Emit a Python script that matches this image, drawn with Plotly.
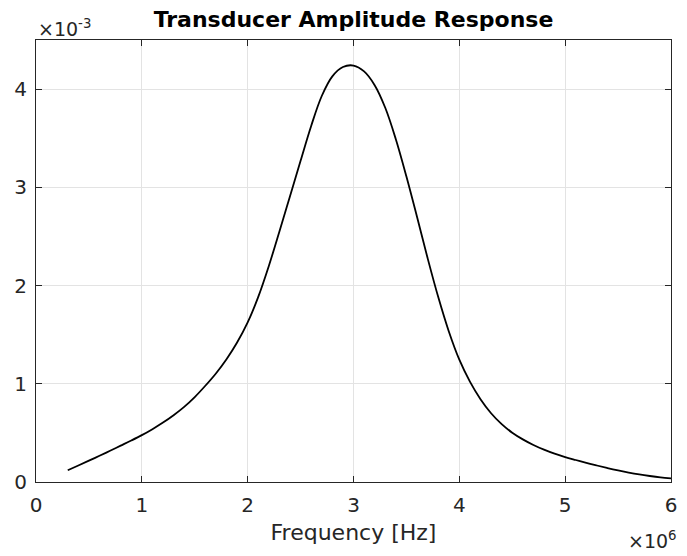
import plotly.graph_objects as go

# Data (frequency in MHz, amplitude in 1e-3 units)
freq_mhz = [0.3, 0.4, 0.5, 0.6, 0.7, 0.8, 0.9, 1.0, 1.1, 1.2,
            1.3, 1.4, 1.5, 1.6, 1.7, 1.8, 1.9, 2.0, 2.1, 2.2,
            2.3, 2.4, 2.5, 2.6, 2.7, 2.8, 2.9, 3.0, 3.1, 3.2,
            3.3, 3.4, 3.5, 3.6, 3.7, 3.8, 3.9, 4.0, 4.1, 4.2,
            4.3, 4.4, 4.5, 4.6, 4.7, 4.8, 4.9, 5.0, 5.1, 5.2,
            5.3, 5.4, 5.5, 5.6, 5.7, 5.8, 5.9, 6.0]
amplitude_e3 = [0.12, 0.168, 0.217, 0.267, 0.318, 0.37, 0.422, 0.477, 0.538, 0.605,
                0.68, 0.765, 0.865, 0.98, 1.105, 1.25, 1.42, 1.625, 1.885, 2.2,
                2.55, 2.91, 3.27, 3.625, 3.93, 4.13, 4.225, 4.24, 4.18, 4.04,
                3.81, 3.49, 3.11, 2.70, 2.28, 1.885, 1.535, 1.245, 1.022, 0.843,
                0.70, 0.589, 0.502, 0.434, 0.377, 0.329, 0.288, 0.254, 0.224, 0.195,
                0.168, 0.142, 0.118, 0.096, 0.077, 0.061, 0.047, 0.036]

freq_hz = [f * 1e6 for f in freq_mhz]
amplitude = [a * 1e-3 for a in amplitude_e3]

x_tickvals = [0, 1e6, 2e6, 3e6, 4e6, 5e6, 6e6]
x_ticktext = ["0", "1", "2", "3", "4", "5", "6"]
y_tickvals = [0, 1e-3, 2e-3, 3e-3, 4e-3]
y_ticktext = ["0", "1", "2", "3", "4"]

title_text = "Transducer Amplitude Response"
xlabel_text = "Frequency [Hz]"
x_exp_text = "×10<sup>6</sup>"
y_exp_text = "×10<sup>-3</sup>"

FONT = "DejaVu Sans, Liberation Sans, Arial, sans-serif"
AX = "#262626"

fig = go.Figure()
fig.add_trace(go.Scatter(x=freq_hz, y=amplitude, mode="lines",
                         line=dict(color="#000000", width=1.8, shape="spline", smoothing=1.0),
                         showlegend=False))

fig.update_layout(
    width=687, height=556,
    margin=dict(l=36, r=10, t=40, b=74),
    paper_bgcolor="white", plot_bgcolor="white",
    font=dict(family=FONT, color=AX, size=20),
    title=dict(text="<b>" + title_text + "</b>", x=0.5, xref="paper",
               y=1 - 19 / 556, yref="container", yanchor="middle",
               font=dict(size=22, color="#000000", family=FONT)),
)

fig.update_xaxes(range=[0, 6e6], tickvals=x_tickvals, ticktext=x_ticktext,
                 showline=True, linecolor=AX, linewidth=1, mirror="ticks",
                 ticks="inside", ticklen=6, tickcolor=AX, tickwidth=1,
                 ticklabelstandoff=5,
                 showgrid=True, gridcolor="#e3e3e3", gridwidth=1, zeroline=False,
                 tickfont=dict(size=20, color=AX),
                 title=dict(text=xlabel_text, font=dict(size=22, color=AX), standoff=8))
fig.update_yaxes(range=[0, 4.5e-3], tickvals=y_tickvals, ticktext=y_ticktext,
                 showline=True, linecolor=AX, linewidth=1, mirror="ticks",
                 ticks="inside", ticklen=6, tickcolor=AX, tickwidth=1,
                 ticklabelstandoff=4,
                 showgrid=True, gridcolor="#e3e3e3", gridwidth=1, zeroline=False,
                 tickfont=dict(size=20, color=AX))

fig.add_annotation(text=y_exp_text, xref="paper", yref="paper", x=0, y=1,
                   xanchor="left", yanchor="bottom", yshift=-2, showarrow=False,
                   font=dict(size=19, color=AX, family=FONT))
fig.add_annotation(text=x_exp_text, xref="paper", yref="paper", x=1, y=0,
                   xanchor="right", yanchor="top", yshift=-44, xshift=8, showarrow=False,
                   font=dict(size=19, color=AX, family=FONT))

fig.write_html("out.html")
